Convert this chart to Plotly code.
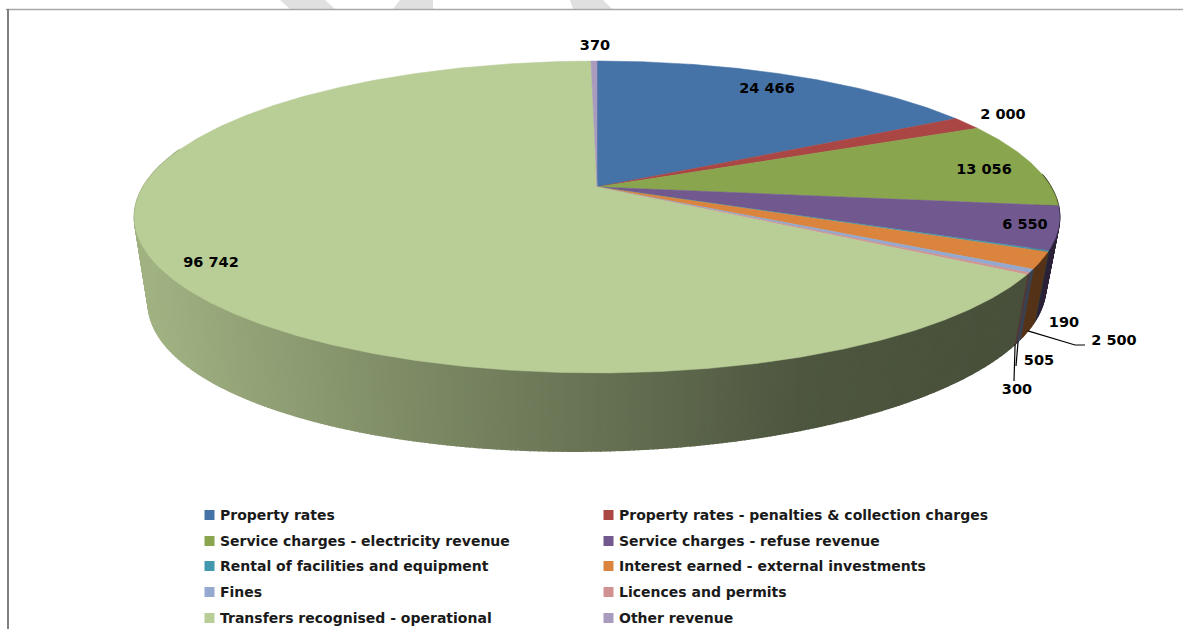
import math
import numpy as np
import plotly.graph_objects as go

# Operating revenue by source
categories = [
    "Property rates",
    "Property rates - penalties & collection charges",
    "Service charges - electricity revenue",
    "Service charges - refuse revenue",
    "Rental of facilities and equipment",
    "Interest earned - external investments",
    "Fines",
    "Licences and permits",
    "Transfers recognised - operational",
    "Other revenue",
]
values = [24466, 2000, 13056, 6550, 190, 2500, 505, 300, 96742, 370]
colors = ["#4572A7", "#AA4643", "#89A54E", "#71588F", "#4198AF",
          "#DB843D", "#93A9CF", "#D19392", "#B9CD96", "#A99BBD"]


def fmt(v):
    return f"{v:,}".replace(",", " ")


# Perspective pie: lid and base are the same disc seen at two heights
APEX_X, APEX_Y = 597.0, 187.0
RX, RY, PERSP = 454.0, 150.2, 0.1923
BASE_APEX_Y, BASE_SCALE_X, BASE_TILT = 265.0, 0.97, 0.018


def lid(theta):
    t = np.radians(theta)
    d = 1 + PERSP * np.cos(t)
    return APEX_X + RX * np.sin(t) / d, APEX_Y - RY * np.cos(t) / d


def base(theta):
    t = np.radians(theta)
    d = 1 + PERSP * np.cos(t)
    x = APEX_X + BASE_SCALE_X * RX * np.sin(t) / d
    y = BASE_APEX_Y - RY * np.cos(t) / d - BASE_TILT * (x - APEX_X)
    return x, y


def shade(hex_color, x):
    # Side wall darkens from left to right
    k = float(np.interp(x, [148, 420, 650, 800, 1020], [0.87, 0.67, 0.52, 0.42, 0.39]))
    r, g, b = (int(hex_color[i:i + 2], 16) for i in (1, 3, 5))
    return f"rgb({r * k:.0f},{g * k:.0f},{b * k:.0f})"


total = sum(values)
ends = np.cumsum(values) / total * 360.0
starts = np.concatenate([[0.0], ends[:-1]])

fig = go.Figure()

# Side wall, only the part facing the viewer
for a0, a1, col in zip(starts, ends, colors):
    lo, hi = max(a0, 85.0), min(a1, 285.0)
    if hi <= lo:
        continue
    n = max(1, int(math.ceil((hi - lo) / 0.5)))
    edges = np.linspace(lo, hi, n + 1)
    for t0, t1 in zip(edges[:-1], edges[1:]):
        xt0, yt0 = lid(t0)
        xt1, yt1 = lid(t1)
        xb0, yb0 = base(t0)
        xb1, yb1 = base(t1)
        c = shade(col, (xt0 + xt1 + xb0 + xb1) / 4)
        fig.add_trace(go.Scatter(
            x=[xt0, xt1, xb1, xb0, xt0], y=[yt0, yt1, yb1, yb0, yt0],
            mode="lines", fill="toself", fillcolor=c,
            line=dict(color=c, width=1.5), hoverinfo="skip", showlegend=False,
        ))

# Lid wedges
for a0, a1, col, name, v in zip(starts, ends, colors, categories, values):
    th = np.linspace(a0, a1, max(2, int((a1 - a0) * 2) + 2))
    xs, ys = lid(th)
    fig.add_trace(go.Scatter(
        x=np.concatenate([[APEX_X], xs, [APEX_X]]),
        y=np.concatenate([[APEX_Y], ys, [APEX_Y]]),
        mode="lines", fill="toself", fillcolor=col,
        line=dict(color=col, width=0.5), name=name,
        text=f"{name}: {fmt(v)}", hoverinfo="text", showlegend=False,
    ))

# Leader lines for the narrow slices
mid = (starts + ends) / 2
leaders = {5: [(1075, 345), (1085, 345)], 6: [(1016, 366)], 7: [(1014, 381)]}
for idx, tail in leaders.items():
    x0, y0 = base(mid[idx])
    fig.add_trace(go.Scatter(
        x=[float(x0)] + [p[0] for p in tail], y=[float(y0)] + [p[1] for p in tail],
        mode="lines", line=dict(color="#000000", width=1.2),
        hoverinfo="skip", showlegend=False,
    ))

# Value labels
label_pos = [(767, 89.5), (1003, 115.5), (984, 170.5), (1025, 225.5), (1064, 323.5),
             (1114, 341.5), (1039, 361.5), (1017, 390.5), (211, 263.5), (595, 46.5)]
fig.add_trace(go.Scatter(
    x=[p[0] for p in label_pos], y=[p[1] for p in label_pos],
    mode="text", text=[fmt(v) for v in values], textposition="middle center",
    textfont=dict(family="DejaVu Sans", size=14.5, color="#000000", weight=700),
    hoverinfo="skip", showlegend=False,
))

# Two-column legend
rows = [515, 541, 566, 592, 618]
swatch_x = [209.5, 608.5]
text_x = [220, 619]
for i, (name, col) in enumerate(zip(categories, colors)):
    r, c = divmod(i, 2)
    fig.add_trace(go.Scatter(
        x=[swatch_x[c]], y=[rows[r]], mode="markers",
        marker=dict(symbol="square", size=10, color=col),
        hoverinfo="skip", showlegend=False,
    ))
    fig.add_trace(go.Scatter(
        x=[text_x[c]], y=[rows[r] + 1], mode="text", text=[name],
        textposition="middle right",
        textfont=dict(family="DejaVu Sans", size=14, color="#1a1a1a", weight=700),
        hoverinfo="skip", showlegend=False,
    ))

# Page furniture: frame and the faint diagonal bands above it
shapes = [
    dict(type="line", x0=6, y0=9.5, x1=1183, y1=9.5, line=dict(color="#a8a8a8", width=1.5)),
    dict(type="line", x0=8, y0=9, x1=8, y1=629, line=dict(color="#808080", width=2)),
]
for pts in ([(280, 0), (325, 0), (335, 9), (290, 9)],
            [(400, 0), (433, 0), (433, 9), (393, 9)],
            [(570, 0), (603, 0), (612, 9), (573, 9)]):
    path = "M " + " L ".join(f"{x},{y}" for x, y in pts) + " Z"
    shapes.append(dict(type="path", path=path, fillcolor="#e0e0e0", line=dict(width=0), layer="below"))

fig.update_layout(
    width=1183, height=629, margin=dict(l=0, r=0, t=0, b=0),
    paper_bgcolor="#ffffff", plot_bgcolor="#ffffff", shapes=shapes,
    xaxis=dict(range=[0, 1183], visible=False, fixedrange=True),
    yaxis=dict(range=[629, 0], visible=False, fixedrange=True),
    showlegend=False,
)
fig.write_html("out.html", config=dict(displayModeBar=False))
